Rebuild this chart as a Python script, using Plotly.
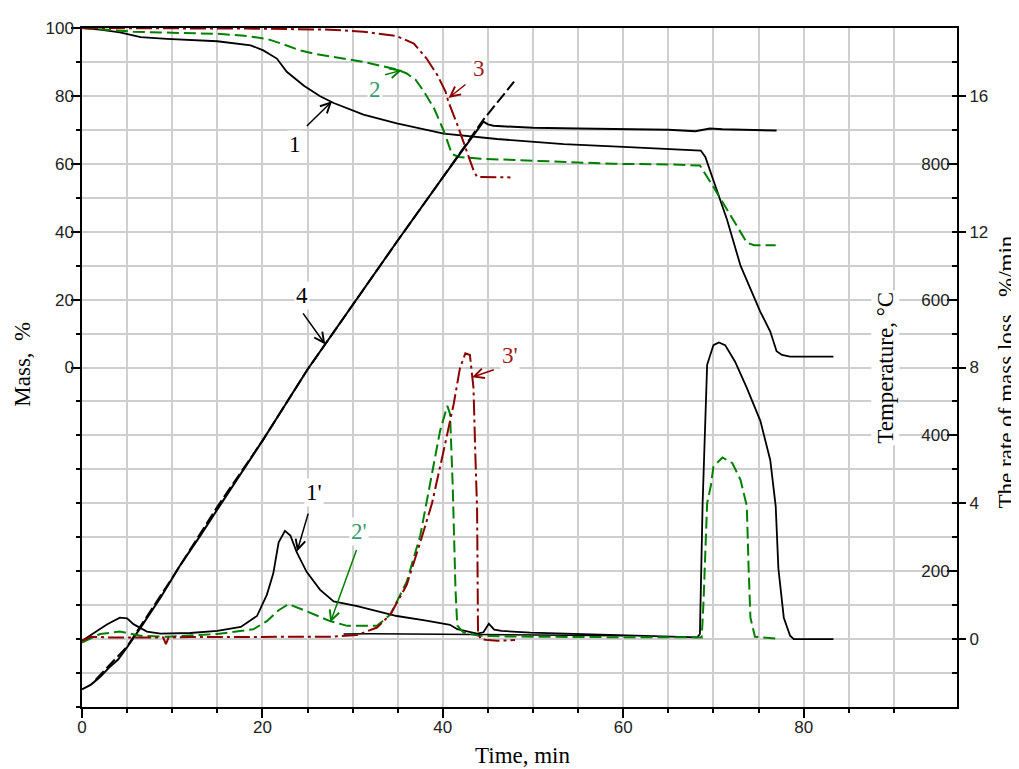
import plotly.graph_objects as go

GRID = "#cfcfcf"
BLACK = "#000000"
GREEN = "#008000"
RED = "#8b0000"
LABEL_GREEN = "#3a9a70"
LABEL_RED = "#9b1b1b"
SERIF = "Liberation Serif, Times New Roman, serif"
SANS = "Liberation Sans, Arial, sans-serif"

# ---- mass curves (left axis, %) ----
m1_t = [0, 2, 4.2, 6.5, 9.4, 15, 18.7, 20.1, 21.6, 22.7, 24.6, 26.4, 27.9, 31.2, 34.9, 40.1,
        46, 53.4, 60, 65.2, 68.6, 69.1, 70, 71.5, 73, 75.2, 76.3, 77, 77.6, 78.5, 83.3]
m1_v = [100, 99.5, 98.7, 97.3, 96.8, 96.1, 94.9, 93.4, 91, 87.1, 83, 79.9, 77.9, 74.5, 71.9, 68.9,
        67.3, 65.8, 65, 64.4, 63.9, 62, 55.2, 43.6, 30, 16.4, 10.6, 4.8, 3.7, 3.2, 3.2]

m2_t = [0, 3, 5.7, 10, 15, 18, 20.5, 22, 24.2, 26, 28.6, 31.2, 34.9, 36, 37, 37.9, 39, 40.1, 41,
        41.8, 44.2, 49.7, 58.9, 65.2, 68.5, 70, 72.2, 73.7, 74.5, 76.9]
m2_v = [100, 99.4, 98.9, 98.6, 98.3, 97.7, 96.8, 95.5, 93.4, 92.3, 91.2, 90, 87.8, 86.6, 84.7,
        81.3, 76.5, 69.7, 62.9, 62, 61.5, 61, 60, 59.8, 59.5, 53.2, 43.6, 36.8, 36, 36]

m3_t = [0, 5, 10, 20, 27.5, 31.2, 34.9, 36.8, 38.2, 39.4, 40.3, 40.6, 41.6, 42.5, 43.4, 43.8, 45, 47.5]
m3_v = [100, 100, 100, 99.8, 99.5, 98.9, 97.6, 95.4, 91, 86.1, 81.3, 78.4, 71.6, 64.9, 58.1, 56.1, 56.1, 56]

# ---- temperature (°C) ----
temp_t = [0, 1, 2, 3, 4, 5, 6.5, 8.7, 10.9, 13.1, 15.3, 20, 25, 30, 35, 40, 44.5, 45.0, 45.6,
          47, 50, 55, 60, 65, 68, 69.6, 71, 74, 77]
temp_v = [26, 33, 44, 58, 70, 88, 117, 161, 209, 252, 297, 392, 497, 592, 687, 780, 862, 858,
          856, 855, 853, 852, 851, 850, 848, 852, 851, 850, 849]

prog_t = [1.5, 5, 10, 15, 20, 25, 30, 35, 40, 44.5, 47.9]
prog_v = [40, 89, 190, 295, 392, 497, 592, 687, 780, 865, 921]

# ---- rate of mass loss (%/min) ----
r1_t = [0, 1.3, 2.8, 4.2, 5, 5.7, 7.2, 8.7, 12, 15, 17.6, 19.4, 20.5, 21.2, 21.8, 22.5, 23.1,
        23.8, 24.9, 26.4, 27.9, 30.5, 34.9, 38, 40.8, 41.6, 43.8, 44.5, 45.1, 45.7, 46.5, 49.7,
        55, 60, 65.2, 68.2, 68.5, 68.8, 69.3, 70, 70.6, 71.3, 72.4, 73.7, 75.2, 76.3, 76.9,
        77.2, 77.8, 78.5, 78.9, 83.3]
r1_v = [-0.05, 0.19, 0.44, 0.63, 0.61, 0.44, 0.22, 0.16, 0.18, 0.24, 0.36, 0.68, 1.31, 1.93,
        2.85, 3.19, 3.05, 2.56, 1.98, 1.45, 1.11, 0.97, 0.68, 0.55, 0.42, 0.29, 0.16, 0.2, 0.45,
        0.28, 0.24, 0.19, 0.15, 0.1, 0.07, 0.05, 0.15, 4.0, 8.08, 8.66, 8.74, 8.66, 8.17, 7.4,
        6.43, 5.27, 3.92, 2.08, 0.63, 0.1, 0, 0]

r0_t = [29, 32, 36, 40, 44, 48, 52, 56, 60]
r0_v = [0.15, 0.16, 0.15, 0.14, 0.15, 0.13, 0.13, 0.12, 0.1]

r2_t = [0, 2, 4.2, 6.5, 9.4, 15, 19, 20.5, 21.8, 22.9, 24.9, 27.5, 29.4, 32.7, 34.2, 36, 37.5,
        38.6, 39.7, 40.5, 40.8, 41.1, 41.4, 41.6, 42.3, 44, 47, 55, 65, 68.7, 68.9, 69.3, 69.7,
        70, 71, 72.1, 73, 73.7, 73.9, 74.1, 74.6, 76.9]
r2_v = [-0.1, 0.15, 0.22, 0.1, 0.07, 0.15, 0.29, 0.53, 0.85, 1.03, 0.82, 0.53, 0.39, 0.39, 0.73,
        1.69, 3.05, 4.6, 6.14, 6.87, 6.63, 4.5, 1.5, 0.4, 0.19, 0.1, 0.08, 0.06, 0.05, 0.05, 1.1,
        4.0, 4.5, 5.08, 5.35, 5.18, 4.69, 3.92, 2.08, 0.63, 0.07, 0.02]

r3_t = [0, 1, 3, 6, 9, 9.3, 9.6, 12, 16, 20, 24, 27.5, 30.5, 32.7, 34.2, 36, 37.5, 38.8, 40.1,
        41.2, 41.9, 42.5, 43, 43.4, 43.6, 43.8, 43.9, 44.2, 45, 46, 48]
r3_v = [-0.05, 0.07, 0.05, 0.06, 0.05, -0.15, 0.05, 0.06, 0.06, 0.07, 0.08, 0.07, 0.12, 0.34,
        0.73, 1.6, 2.85, 4.0, 5.56, 6.92, 7.98, 8.42, 8.37, 7.4, 5.47, 3.82, 0.19, 0.0, -0.03,
        -0.05, -0.03]

# curve labels: text, label pos (t, mass), arrow tail, arrow tip, colour
labels = [
    ("1", (23.66, 65.7), (24.76, 70.7), (27.72, 78.4), BLACK, BLACK),
    ("2", (32.5, 81.8), (33.44, 86.1), (35.48, 87.6), LABEL_GREEN, GREEN),
    ("3", (43.97, 88.1), (42.68, 83.7), (40.64, 79.4), LABEL_RED, RED),
    ("4", (24.39, 21.3), (24.39, 16.4), (26.97, 6.8), BLACK, BLACK),
    ("1'", (25.68, -36.8), (25.12, -42.6), (23.84, -54.2), BLACK, BLACK),
    ("2'", (30.67, -48.4), (30.49, -53.3), (27.53, -75.1), LABEL_GREEN, GREEN),
    ("3'", (47.48, 3.4), (45.82, -0.5), (43.24, -2.9), LABEL_RED, RED),
]

temp_ticks = [200, 400, 600, 800]

fig = go.Figure()


def add_line(x, y, color, axis, dash="solid", width=1.8):
    fig.add_trace(go.Scatter(x=x, y=y, mode="lines", yaxis=axis,
                             line=dict(color=color, width=width, dash=dash)))


# temperature
add_line(temp_t, temp_v, BLACK, "y2", width=2)
add_line(prog_t, prog_v, BLACK, "y2", dash="12px,4px", width=2)
# mass
add_line(m1_t, m1_v, BLACK, "y")
add_line(m2_t, m2_v, GREEN, "y", dash="12px,5px", width=2)
add_line(m3_t, m3_v, RED, "y", dash="16px,4px,3px,4px", width=2)
# rate
add_line(r0_t, r0_v, BLACK, "y3", width=1.5)
add_line(r1_t, r1_v, BLACK, "y3")
add_line(r2_t, r2_v, GREEN, "y3", dash="12px,5px", width=2)
add_line(r3_t, r3_v, RED, "y3", dash="16px,4px,3px,4px", width=2)

annotations = []
for text, pos, tail, tip, tcol, acol in labels:
    annotations.append(dict(x=tip[0], y=tip[1], xref="x", yref="y",
                            ax=tail[0], ay=tail[1], axref="x", ayref="y",
                            text="", showarrow=True, arrowhead=5, arrowsize=1.3,
                            arrowwidth=1.5, arrowcolor=acol))
    annotations.append(dict(x=pos[0], y=pos[1], xref="x", yref="y", text=text,
                            showarrow=False, bgcolor="white",
                            font=dict(family=SERIF, size=23, color=tcol)))

titles = [
    ("Time, min", 0.504, -0.072, 0),
    ("Mass,  %", -0.069, 0.505, -90),
    ("Temperature, °C", 0.918, 0.50, -90),
    ("The rate of mass loss,  %/min", 1.057, 0.494, -90),
]
for text, x, y, ang in titles:
    annotations.append(dict(x=x, y=y, xref="paper", yref="paper", text=text, textangle=ang,
                            xanchor="center", yanchor="middle",
                            showarrow=False, bgcolor="white",
                            font=dict(family=SERIF, size=23, color=BLACK)))

shapes = [dict(type="rect", xref="paper", yref="paper", x0=0.895, x1=0.946, y0=0.298, y1=0.741,
               fillcolor="white", line=dict(width=0), layer="between")]
for v in temp_ticks:
    shapes.append(dict(type="rect", xref="paper", yref="y2", x0=0.946, x1=0.988,
                       y0=v - 17, y1=v + 17, fillcolor="white", line=dict(width=0),
                       layer="between"))

tickfont = dict(family=SANS, size=17, color="#222222")

# the page body adds an 8px margin, so the figure is shrunk by that amount
fig.update_layout(
    width=1011,
    height=761,
    margin=dict(l=74, r=62, t=11, b=62),
    paper_bgcolor="white",
    plot_bgcolor="white",
    showlegend=False,
    annotations=annotations,
    shapes=shapes,
    xaxis=dict(
        range=[0, 97], tickvals=[0, 20, 40, 60, 80], ticks="outside", ticklen=9,
        tickwidth=1.5, tickcolor=BLACK, showline=True, linecolor=BLACK, linewidth=1.5,
        mirror=True, showgrid=True, gridcolor=GRID, gridwidth=1.5, zeroline=False,
        tickfont=tickfont, ticklabelstandoff=-5,
        minor=dict(dtick=5, tick0=0, ticks="outside", ticklen=4, tickcolor=BLACK,
                   showgrid=True, gridcolor=GRID, gridwidth=1.5),
    ),
    yaxis=dict(
        range=[-100, 100], tickvals=[0, 20, 40, 60, 80, 100], ticks="outside", ticklen=9,
        tickwidth=1.5, tickcolor=BLACK, showline=True, linecolor=BLACK, linewidth=1.5,
        mirror=True, showgrid=True, gridcolor=GRID, gridwidth=1.5, zeroline=False,
        tickfont=tickfont, ticklabelstandoff=-6,
        minor=dict(dtick=10, tick0=0, ticks="outside", ticklen=4, tickcolor=BLACK,
                   showgrid=True, gridcolor=GRID, gridwidth=1.5),
    ),
    yaxis2=dict(
        range=[0, 1000], overlaying="y", side="right", anchor="x",
        tickvals=temp_ticks, ticks="inside", ticklabelposition="inside", ticklen=10,
        tickwidth=1.5, tickcolor=BLACK, showline=True, linecolor=BLACK, linewidth=1.5,
        showgrid=False, zeroline=False, tickfont=tickfont, ticklabelstandoff=-2,
        minor=dict(dtick=50, tick0=0, ticks="inside", ticklen=5, tickcolor=BLACK),
    ),
    yaxis3=dict(
        range=[-2, 18], overlaying="y", side="right", anchor="free", position=1,
        tickvals=[0, 4, 8, 12, 16], ticks="outside", ticklen=8, tickwidth=1.5,
        tickcolor=BLACK, showline=False, showgrid=False, zeroline=False, tickfont=tickfont,
        ticklabelstandoff=0,
    ),
)

fig.write_html("out.html")
